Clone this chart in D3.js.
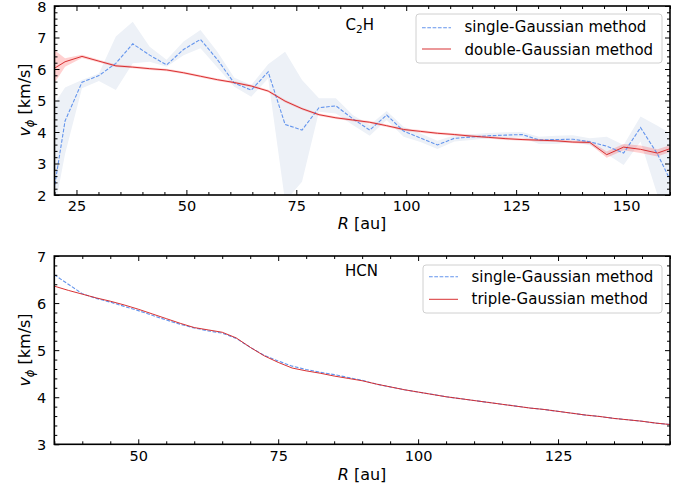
<!DOCTYPE html>
<html>
<head>
<meta charset="utf-8">
<script src="https://cdn.jsdelivr.net/npm/d3@7"></script>
<style>
html,body{margin:0;padding:0;background:#fff;}
svg{display:block;font-family:"DejaVu Sans",sans-serif;}
</style>
</head>
<body>
<svg id="chart" width="688" height="491"></svg>
<script>
// ---------- DATA ----------
// C2H panel radii (au)
const c2hR = [18.55,22.40,26.25,30.10,33.95,37.80,41.65,45.50,49.35,53.20,57.05,60.90,64.75,68.60,72.45,76.30,80.15,84.00,87.85,91.70,95.55,99.40,103.25,107.10,110.95,114.80,118.65,122.50,126.35,130.20,134.05,137.90,141.75,145.60,149.45,153.30,157.15,161.00];
const c2hSingle   = [1.00,4.35,5.58,5.79,6.18,6.80,6.44,6.13,6.62,6.94,6.30,5.55,5.33,5.91,4.24,4.06,4.77,4.83,4.42,4.06,4.54,4.03,3.81,3.59,3.80,3.84,3.88,3.90,3.92,3.75,3.76,3.77,3.69,3.55,3.33,4.14,3.30,2.20];
const c2hSingleHi = [4.60,5.41,5.65,5.86,7.03,7.50,6.71,6.29,6.87,7.24,6.55,5.72,5.49,6.15,6.55,5.65,5.07,5.07,4.54,4.22,4.67,4.17,3.95,3.72,3.90,3.93,3.97,3.99,4.00,3.85,3.88,3.90,3.80,3.85,3.59,4.49,4.20,3.88];
const c2hSingleLo = [0.50,3.30,5.39,5.62,5.33,6.18,6.23,6.07,6.44,6.66,6.05,5.44,5.12,5.70,1.80,2.42,4.64,4.59,4.22,3.88,4.38,3.85,3.68,3.46,3.70,3.75,3.80,3.81,3.83,3.62,3.62,3.68,3.58,3.30,2.95,3.70,2.00,1.50];
const c2hDouble   = [5.90,6.23,6.40,6.25,6.10,6.06,6.01,5.97,5.88,5.77,5.66,5.57,5.46,5.30,4.98,4.74,4.55,4.45,4.38,4.31,4.20,4.08,4.02,3.96,3.92,3.87,3.83,3.79,3.76,3.74,3.72,3.68,3.67,3.28,3.52,3.45,3.33,3.52];
const c2hDoubleHi = [6.76,6.34,6.45,6.29,6.14,6.10,6.05,6.01,5.92,5.81,5.70,5.61,5.50,5.34,5.02,4.78,4.59,4.49,4.42,4.35,4.24,4.12,4.06,4.00,3.96,3.91,3.87,3.83,3.80,3.78,3.76,3.72,3.72,3.38,3.62,3.57,3.45,3.62];
const c2hDoubleLo = [5.25,6.07,6.35,6.21,6.06,6.02,5.97,5.93,5.84,5.73,5.62,5.53,5.42,5.26,4.94,4.70,4.51,4.41,4.34,4.27,4.16,4.04,3.98,3.92,3.88,3.83,3.79,3.75,3.72,3.70,3.68,3.64,3.62,3.18,3.42,3.33,3.22,3.42];

// HCN panel radii (au)
const hcnR = [35,37.5,40,42.5,45,47.5,50,52.5,55,57.5,60,62.5,65,67.5,70,72.5,75,77.5,80,82.5,85,87.5,90,92.5,95,97.5,100,102.5,105,107.5,110,112.5,115,117.5,120,122.5,125,127.5,130,132.5,135,137.5,140,142.5,145];
const hcnSingle = [6.60,6.40,6.20,6.10,6.02,5.93,5.84,5.74,5.64,5.55,5.47,5.41,5.36,5.25,5.06,4.89,4.77,4.66,4.59,4.53,4.48,4.42,4.36,4.28,4.22,4.16,4.11,4.06,4.01,3.97,3.93,3.89,3.85,3.81,3.77,3.74,3.70,3.66,3.62,3.59,3.55,3.52,3.49,3.45,3.42];
const hcnTriple = [6.36,6.27,6.19,6.11,6.04,5.96,5.87,5.77,5.67,5.57,5.48,5.43,5.38,5.26,5.06,4.88,4.74,4.62,4.56,4.51,4.45,4.40,4.35,4.28,4.22,4.16,4.11,4.06,4.01,3.97,3.93,3.89,3.85,3.81,3.77,3.74,3.70,3.66,3.62,3.59,3.55,3.52,3.49,3.45,3.42];

// ticks
const topXTicks = [25,50,75,100,125,150];
const topYTicks = [2,3,4,5,6,7,8];
const botXTicks = [50,75,100,125];
const botYTicks = [3,4,5,6,7];
const legendTop = ["single-Gaussian method","double-Gaussian method"];
const legendBot = ["single-Gaussian method","triple-Gaussian method"];

// ---------- STYLE ----------
const BLUE = "#6495ed", RED = "#d62728";
const BLUE_BAND = "#edf1f7", RED_BAND = "rgba(255,0,0,0.18)";
const FS = 15, TFS = 14.5;

const svg = d3.select("#chart");
svg.append("rect").attr("width",688).attr("height",491).attr("fill","#fff");

function panel(o){
  const {x0,x1,y0,y1,xd,yd,id} = o;
  const x = d3.scaleLinear().domain(xd).range([x0,x1]);
  const y = d3.scaleLinear().domain(yd).range([y1,y0]);
  const g = svg.append("g");
  svg.append("clipPath").attr("id",id).append("rect")
     .attr("x",x0).attr("y",y0).attr("width",x1-x0).attr("height",y1-y0);
  const plot = g.append("g").attr("clip-path",`url(#${id})`);
  return {x,y,g,plot};
}

function axes(p, o){
  const {x,y,g} = p;
  const {x0,x1,y0,y1,xt,yt,xd,yd} = o;
  const xMinor = d3.range(Math.ceil(xd[0]/5)*5, xd[1]+0.001, 5).filter(v=>!xt.includes(v));
  const yMinor = d3.range(Math.round(yd[0]*5), Math.round(yd[1]*5)+1).map(v=>v/5).filter(v=>!yt.some(t=>Math.abs(t-v)<1e-6));
  const style = sel => { sel.select(".domain").remove(); sel.selectAll("line").attr("stroke","#000").attr("stroke-width",1); sel.selectAll("text").attr("font-size",TFS).attr("font-family","DejaVu Sans").attr("fill","#000"); };
  // bottom
  g.append("g").attr("transform",`translate(0,${y1})`).call(d3.axisBottom(x).tickValues(xt).tickSize(-5).tickPadding(6).tickFormat(d3.format("d"))).call(style);
  g.append("g").attr("transform",`translate(0,${y1})`).call(d3.axisBottom(x).tickValues(xMinor).tickSize(-3).tickFormat("")).call(style);
  // top
  g.append("g").attr("transform",`translate(0,${y0})`).call(d3.axisTop(x).tickValues(xt).tickSize(-5).tickFormat("")).call(style);
  g.append("g").attr("transform",`translate(0,${y0})`).call(d3.axisTop(x).tickValues(xMinor).tickSize(-3).tickFormat("")).call(style);
  // left
  const yl = g.append("g").attr("transform",`translate(${x0},0)`).call(d3.axisLeft(y).tickValues(yt).tickSize(-5).tickPadding(8).tickFormat(d3.format("d"))).call(style);
  yl.selectAll("text").attr("dy","0.37em");
  g.append("g").attr("transform",`translate(${x0},0)`).call(d3.axisLeft(y).tickValues(yMinor).tickSize(-3).tickFormat("")).call(style);
  // right
  g.append("g").attr("transform",`translate(${x1},0)`).call(d3.axisRight(y).tickValues(yt).tickSize(-5).tickFormat("")).call(style);
  g.append("g").attr("transform",`translate(${x1},0)`).call(d3.axisRight(y).tickValues(yMinor).tickSize(-3).tickFormat("")).call(style);
  // spines
  g.append("rect").attr("x",x0).attr("y",y0).attr("width",x1-x0).attr("height",y1-y0)
   .attr("fill","none").attr("stroke","#000").attr("stroke-width",1.6);
}

function band(p, R, lo, hi, fill){
  const a = d3.area().x((d,i)=>p.x(R[i])).y0((d,i)=>p.y(lo[i])).y1((d,i)=>p.y(hi[i]));
  p.plot.append("path").attr("d",a(R)).attr("fill",fill).attr("stroke","none");
}
function line(p, R, v, color, dash){
  const l = d3.line().x((d,i)=>p.x(R[i])).y((d,i)=>p.y(v[i]));
  const path = p.plot.append("path").attr("d",l(R)).attr("fill","none").attr("stroke",color).attr("stroke-width",dash?1.1:0.95);
  if(dash) path.attr("stroke-dasharray",dash);
}

function legend(g, bx, by, bw, bh, labels, rows){
  g.append("rect").attr("x",bx).attr("y",by).attr("width",bw).attr("height",bh).attr("rx",3)
   .attr("fill","rgba(255,255,255,0.85)").attr("stroke","#d0d0d0").attr("stroke-width",1);
  rows.forEach((r,i)=>{
    const ln = g.append("line").attr("x1",bx+6).attr("x2",bx+35).attr("y1",r.ly).attr("y2",r.ly)
      .attr("stroke",r.color).attr("stroke-width",r.dash?1.1:0.95);
    if(r.dash) ln.attr("stroke-dasharray",r.dash);
    g.append("text").attr("x",bx+48.5).attr("y",r.ty).attr("font-size",FS).attr("fill","#000").text(labels[i]);
  });
}

function ylabel(cx, cy){
  const t = svg.append("text").attr("transform",`translate(${cx},${cy}) rotate(-90)`).attr("text-anchor","middle").attr("font-size",16).attr("fill","#000");
  t.append("tspan").attr("font-style","italic").text("v");
  t.append("tspan").attr("font-style","italic").attr("font-size",11.5).attr("dy",3.5).text("ϕ");
  t.append("tspan").attr("dy",-3.5).text(" [km/s]");
}
function xlabel(cx, by){
  const t = svg.append("text").attr("x",cx).attr("y",by).attr("text-anchor","middle").attr("font-size",16).attr("fill","#000");
  t.append("tspan").attr("font-style","italic").text("R");
  t.append("tspan").text(" [au]");
}

// ---------- TOP PANEL (C2H) ----------
const oTop = {x0:54.5,x1:670,y0:6,y1:195,xd:[20,160],yd:[2,8],xt:topXTicks,yt:topYTicks,id:"clipTop"};
const pTop = panel(oTop);
band(pTop, c2hR, c2hSingleLo, c2hSingleHi, BLUE_BAND);
band(pTop, c2hR, c2hDoubleLo, c2hDoubleHi, RED_BAND);
line(pTop, c2hR, c2hSingle, BLUE, "3.7,1.6");
line(pTop, c2hR, c2hDouble, RED, null);
axes(pTop, oTop);
{
  const t = svg.append("text").attr("x",345.5).attr("y",29.5).attr("font-size",FS).attr("fill","#000");
  t.append("tspan").text("C");
  t.append("tspan").attr("font-size",10.5).attr("dy",3.5).text("2");
  t.append("tspan").attr("dy",-3.5).text("H");
}
legend(svg, 416, 14, 246, 49, legendTop, [
  {ly:27.7, ty:31.8, color:BLUE, dash:"3.7,1.6"},
  {ly:49, ty:54.5, color:RED, dash:null}
]);
ylabel(30, 100);
xlabel(362, 229);

// ---------- BOTTOM PANEL (HCN) ----------
const oBot = {x0:54.3,x1:670,y0:256,y1:444.3,xd:[35,145],yd:[3,7],xt:botXTicks,yt:botYTicks,id:"clipBot"};
const pBot = panel(oBot);
line(pBot, hcnR, hcnSingle, BLUE, "3.7,1.6");
line(pBot, hcnR, hcnTriple, RED, null);
axes(pBot, oBot);
svg.append("text").attr("x",345).attr("y",276).attr("font-size",FS).attr("fill","#000").text("HCN");
legend(svg, 423, 265, 239, 48, legendBot, [
  {ly:276.7, ty:281.8, color:BLUE, dash:"3.7,1.6"},
  {ly:299.3, ty:304.4, color:RED, dash:null}
]);
ylabel(30, 350);
xlabel(362, 480);
</script>
</body>
</html>
